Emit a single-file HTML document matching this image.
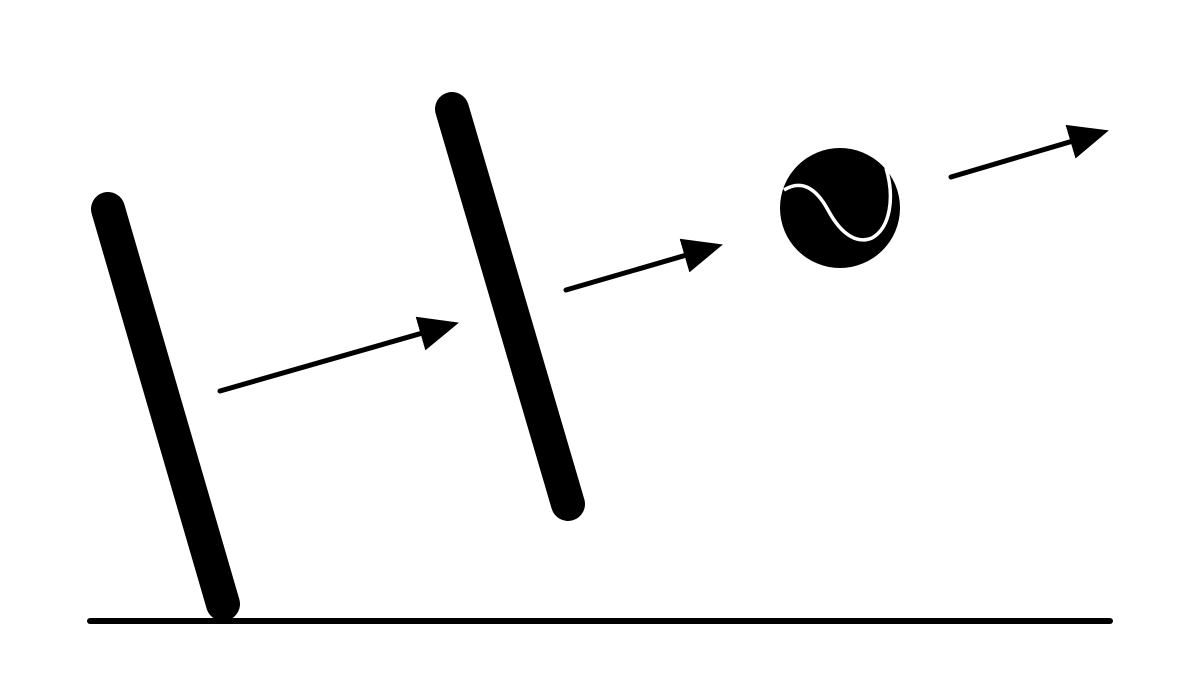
<!DOCTYPE html>
<html><head><meta charset="utf-8"><style>html,body{margin:0;padding:0;background:#fff}svg{display:block}</style></head>
<body>
<svg width="1200" height="698" viewBox="0 0 1200 698">
<defs>
<marker id="ah" markerWidth="8" markerHeight="7" refX="1" refY="3.5" orient="auto" markerUnits="strokeWidth" viewBox="0 0 8 7">
<path d="M0,0 L8,3.5 L0,7 Z" fill="#000"/>
</marker>
</defs>
<line x1="90" y1="621" x2="1110" y2="621" stroke="#000" stroke-width="6" stroke-linecap="round"/>
<line x1="108" y1="209" x2="223" y2="604" stroke="#000" stroke-width="34" stroke-linecap="round"/>
<line x1="452" y1="109" x2="568" y2="504" stroke="#000" stroke-width="34" stroke-linecap="round"/>
<line x1="220" y1="391" x2="425.3" y2="332.2" stroke="#000" stroke-width="5" stroke-linecap="round" marker-end="url(#ah)"/>
<line x1="566" y1="290" x2="689.3" y2="254.2" stroke="#000" stroke-width="5" stroke-linecap="round" marker-end="url(#ah)"/>
<line x1="951" y1="177" x2="1075.3" y2="140.3" stroke="#000" stroke-width="5" stroke-linecap="round" marker-end="url(#ah)"/>
<g>
<circle cx="840" cy="208" r="60" fill="#000"/>
<path d="M784,190 C800,180 815,186 828,210 C842,236 858,244 872,238 C890,228 895,198 886,168" fill="none" stroke="#fff" stroke-width="3.5"/>
</g>
</svg>
</body></html>
